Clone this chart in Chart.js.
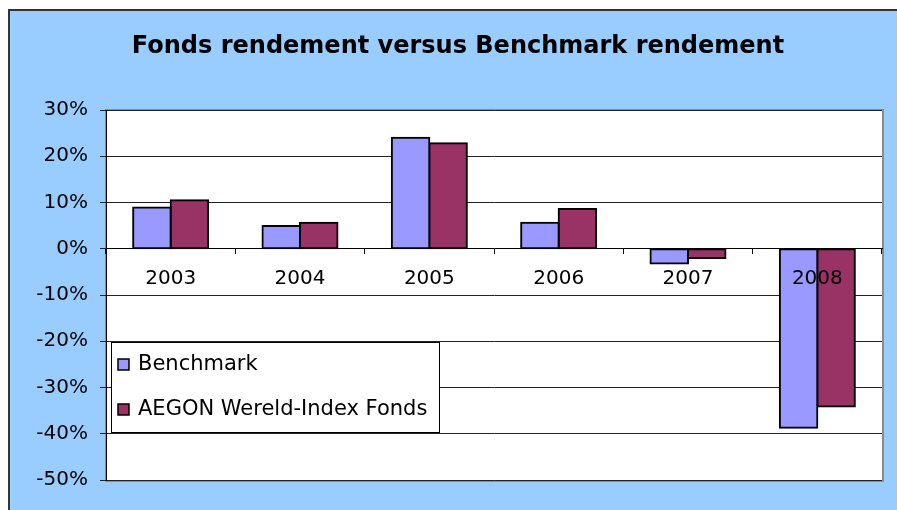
<!DOCTYPE html>
<html>
<head>
<meta charset="utf-8">
<script src="https://cdn.jsdelivr.net/npm/chart.js@4/dist/chart.umd.min.js"></script>
<style>
  html, body { margin: 0; padding: 0; background: #ffffff; overflow: hidden; }
  #wrap { width: 897px; height: 510px; position: relative; }
  canvas { display: block; }
</style>
</head>
<body>
<div id="wrap"><canvas id="c" width="897" height="510"></canvas></div>
<script>
// data
var years = ['2003', '2004', '2005', '2006', '2007', '2008'];
var benchmark = [8.9, 4.9, 24.0, 5.6, -3.2, -38.7];
var fonds = [10.5, 5.6, 22.8, 8.6, -2.0, -34.1];
var seriesNames = ['Benchmark', 'AEGON Wereld-Index Fonds'];
var yTicks = [-50, -40, -30, -20, -10, 0, 10, 20, 30];

var chartTitle = 'Fonds rendement versus Benchmark rendement';
var FONT = '"DejaVu Sans", Verdana, sans-serif';

// achtergrond, titel en plotvlak
var backdrop = {
    id: 'backdrop',
    beforeDraw: function (chart) {
        var ctx = chart.ctx, a = chart.chartArea;
        ctx.save();
        ctx.fillStyle = '#ffffff';
        ctx.fillRect(0, 0, chart.width, chart.height);
        ctx.fillStyle = '#99ccff';
        ctx.fillRect(9, 10, chart.width - 9, chart.height - 10);
        ctx.strokeStyle = '#333333';
        ctx.lineWidth = 2;
        ctx.beginPath();
        ctx.moveTo(9, chart.height);
        ctx.lineTo(9, 10);
        ctx.lineTo(chart.width, 10);
        ctx.stroke();
        // plot area
        ctx.fillStyle = '#ffffff';
        ctx.fillRect(a.left, a.top, a.right - a.left, a.bottom - a.top);
        ctx.strokeStyle = '#8c8c8c';
        ctx.lineWidth = 2;
        ctx.strokeRect(a.left, a.top, a.right - a.left + 1, a.bottom - a.top + 1);
        // titel
        ctx.fillStyle = '#000000';
        ctx.font = 'bold 24px ' + FONT;
        ctx.textAlign = 'center';
        ctx.textBaseline = 'middle';
        ctx.fillText(chartTitle, 458, 47);
        ctx.restore();
    }
};

// legenda in het plotvlak, met rand
var boxLegend = {
    id: 'boxLegend',
    afterDraw: function (chart) {
        var ctx = chart.ctx;
        var x = 111, y = 342, w = 328, h = 90;
        ctx.save();
        ctx.fillStyle = '#ffffff';
        ctx.fillRect(x, y, w, h);
        ctx.strokeStyle = '#000000';
        ctx.lineWidth = 1;
        ctx.strokeRect(x + 0.5, y + 0.5, w, h);
        ctx.font = '21px ' + FONT;
        ctx.textAlign = 'left';
        ctx.textBaseline = 'middle';
        chart.data.datasets.forEach(function (ds, i) {
            var cy = 364 + i * 45;
            ctx.fillStyle = ds.backgroundColor;
            ctx.fillRect(118, cy - 5, 11, 11);
            ctx.strokeStyle = '#000000';
            ctx.lineWidth = 1.5;
            ctx.strokeRect(118, cy - 5, 11, 11);
            ctx.fillStyle = '#000000';
            ctx.fillText(ds.label, 138, cy + 1);
        });
        ctx.restore();
    }
};

var ctx = document.getElementById('c').getContext('2d');
var chart = new Chart(ctx, {
    type: 'bar',
    data: {
        labels: years,
        datasets: [
            { label: seriesNames[0], data: benchmark, backgroundColor: '#9999ff', borderColor: '#000000', borderWidth: 2, borderSkipped: false, inflateAmount: 1 },
            { label: seriesNames[1], data: fonds, backgroundColor: '#993366', borderColor: '#000000', borderWidth: 2, borderSkipped: false, inflateAmount: 1 }
        ]
    },
    options: {
        responsive: false,
        animation: false,
        devicePixelRatio: 1,
        categoryPercentage: 0.58,
        barPercentage: 1.0,
        layout: { padding: { left: 0, right: 15, top: 110, bottom: 30 } },
        scales: {
            x: {
                position: { y: 0 },
                offset: true,
                grid: { display: true, drawOnChartArea: false, drawTicks: true, tickLength: 5, color: '#000000', offset: true },
                border: { display: true, color: '#000000', width: 1 },
                ticks: { z: 1, color: '#000000', font: { family: FONT, size: 20 }, padding: 13, maxRotation: 0 }
            },
            y: {
                min: -50,
                max: 30,
                afterBuildTicks: function (scale) {
                    scale.ticks = yTicks.map(function (v) { return { value: v }; });
                },
                afterFit: function (scale) { scale.width = 106; },
                grid: { color: '#222222', lineWidth: 1, tickLength: 6 },
                border: { display: true, color: '#000000', width: 1 },
                ticks: {
                    color: '#000000',
                    font: { family: FONT, size: 20 },
                    padding: 12,
                    callback: function (v) { return v + '%'; }
                }
            }
        },
        plugins: {
            legend: { display: false },
            title: { display: false },
            tooltip: { enabled: false }
        }
    },
    plugins: [backdrop, boxLegend]
});
</script>
</body>
</html>
